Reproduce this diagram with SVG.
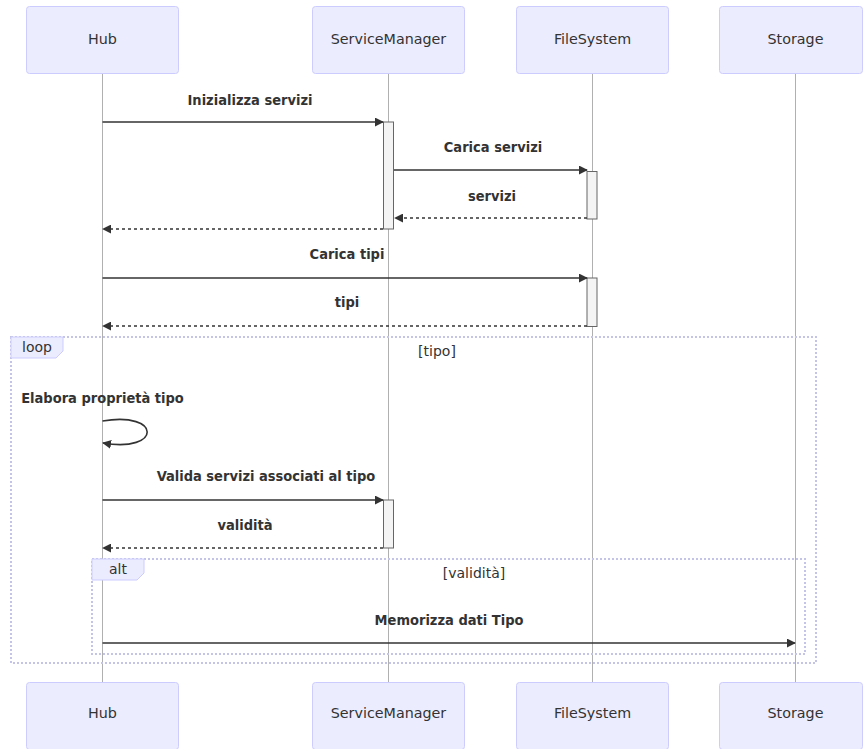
<svg xmlns="http://www.w3.org/2000/svg" width="864" height="749" viewBox="0 0 864 749">
  <style>
    .actor { fill: #ececff; stroke: #ccccff; stroke-width: 1; }
    .actor-text { font-family: "DejaVu Sans", "Liberation Sans", sans-serif; font-size: 14.3px; fill: #333; text-anchor: middle; dominant-baseline: central; }
    .lifeline { stroke: #b0b0b0; stroke-width: 1; }
    .activation { fill: #f4f4f4; stroke: #666; stroke-width: 1; }
    .msg { stroke: #333; stroke-width: 1.6; fill: none; }
    .ret { stroke: #333; stroke-width: 1.6; fill: none; stroke-dasharray: 3,3; }
    .msg-text { font-family: "DejaVu Sans Condensed", "DejaVu Sans", sans-serif; font-weight: bold; font-size: 14.5px; fill: #333; text-anchor: middle; }
    .frame { fill: none; stroke: #c4c4e6; stroke-width: 2; stroke-dasharray: 2,2; }
    .frame-label { fill: #ececff; stroke: #ccccff; stroke-width: 1; }
    .frame-text { font-family: "DejaVu Sans", "Liberation Sans", sans-serif; font-size: 14px; fill: #333; }
  </style>
  <defs>
    <marker id="arrowhead" viewBox="0 0 10 10" refX="9" refY="5" markerWidth="9" markerHeight="9" markerUnits="userSpaceOnUse" orient="auto">
      <path d="M0,0 L10,5 L0,10 z" fill="#333"/>
    </marker>
  </defs>
  <rect width="864" height="749" fill="#ffffff"/>

  <!-- lifelines -->
  <g id="lifelines">
    <line class="lifeline" x1="102.5" y1="73" x2="102.5" y2="682"/>
    <line class="lifeline" x1="388.5" y1="73" x2="388.5" y2="682"/>
    <line class="lifeline" x1="592.5" y1="73" x2="592.5" y2="682"/>
    <line class="lifeline" x1="795.5" y1="73" x2="795.5" y2="682"/>
  </g>

  <!-- participants (top and bottom) -->
  <g id="hub">
    <rect class="actor" x="26.5" y="6.5" width="152" height="67" rx="3"/>
    <text class="actor-text" x="102.5" y="39">Hub</text>
    <rect class="actor" x="26.5" y="682.5" width="152" height="67" rx="3"/>
    <text class="actor-text" x="102.5" y="713">Hub</text>
  </g>
  <g id="servicemanager">
    <rect class="actor" x="312.5" y="6.5" width="152" height="67" rx="3"/>
    <text class="actor-text" x="388.5" y="39">ServiceManager</text>
    <rect class="actor" x="312.5" y="682.5" width="152" height="67" rx="3"/>
    <text class="actor-text" x="388.5" y="713">ServiceManager</text>
  </g>
  <g id="filesystem">
    <rect class="actor" x="516.5" y="6.5" width="152" height="67" rx="3"/>
    <text class="actor-text" x="592.5" y="39">FileSystem</text>
    <rect class="actor" x="516.5" y="682.5" width="152" height="67" rx="3"/>
    <text class="actor-text" x="592.5" y="713">FileSystem</text>
  </g>
  <g id="storage">
    <rect class="actor" x="719.5" y="6.5" width="143" height="67" rx="3"/>
    <text class="actor-text" x="795.5" y="39">Storage</text>
    <rect class="actor" x="719.5" y="682.5" width="143" height="67" rx="3"/>
    <text class="actor-text" x="795.5" y="713">Storage</text>
  </g>

  <!-- loop / alt frames -->
  <g id="loop-frame">
    <rect class="frame" x="11" y="337" width="805" height="326"/>
    <path class="frame-label" d="M11,337 H63 V351 L56,358 H11 Z"/>
    <text class="frame-text" x="37" y="352" text-anchor="middle">loop</text>
    <text class="frame-text" x="437" y="356" text-anchor="middle">[tipo]</text>
  </g>
  <g id="alt-frame">
    <rect class="frame" x="92" y="559" width="713" height="95"/>
    <path class="frame-label" d="M92,559 H144 V573 L137,580 H92 Z"/>
    <text class="frame-text" x="118" y="574" text-anchor="middle">alt</text>
    <text class="frame-text" x="474" y="578" text-anchor="middle">[validità]</text>
  </g>

  <!-- activations -->
  <g id="activations">
    <rect class="activation" x="383.5" y="122" width="10" height="107"/>
    <rect class="activation" x="587" y="171.5" width="10" height="47.5"/>
    <rect class="activation" x="587" y="278" width="10" height="48.5"/>
    <rect class="activation" x="383.5" y="500" width="10" height="48"/>
  </g>

  <!-- messages -->
  <g id="connectors">
    <line class="msg" x1="102.5" y1="122" x2="383" y2="122" marker-end="url(#arrowhead)"/>
    <text class="msg-text" x="250" y="105">Inizializza servizi</text>

    <line class="msg" x1="394" y1="170" x2="587" y2="170" marker-end="url(#arrowhead)"/>
    <text class="msg-text" x="493" y="152">Carica servizi</text>

    <line class="ret" x1="587" y1="218" x2="395" y2="218" marker-end="url(#arrowhead)"/>
    <text class="msg-text" x="492" y="201">servizi</text>

    <line class="ret" x1="383" y1="229" x2="103" y2="229" marker-end="url(#arrowhead)"/>

    <line class="msg" x1="102.5" y1="278" x2="587" y2="278" marker-end="url(#arrowhead)"/>
    <text class="msg-text" x="347" y="259">Carica tipi</text>

    <line class="ret" x1="587" y1="326" x2="103" y2="326" marker-end="url(#arrowhead)"/>
    <text class="msg-text" x="347" y="307">tipi</text>

    <path class="msg" d="M102.5,421 C162,411 162,453 103,443" marker-end="url(#arrowhead)"/>
    <text class="msg-text" x="102.5" y="403">Elabora proprietà tipo</text>

    <line class="msg" x1="102.5" y1="500" x2="383" y2="500" marker-end="url(#arrowhead)"/>
    <text class="msg-text" x="266" y="481">Valida servizi associati al tipo</text>

    <line class="ret" x1="383" y1="548" x2="103" y2="548" marker-end="url(#arrowhead)"/>
    <text class="msg-text" x="245" y="530">validità</text>

    <line class="msg" x1="102.5" y1="643" x2="795" y2="643" marker-end="url(#arrowhead)"/>
    <text class="msg-text" x="449" y="625">Memorizza dati Tipo</text>
  </g>
</svg>
